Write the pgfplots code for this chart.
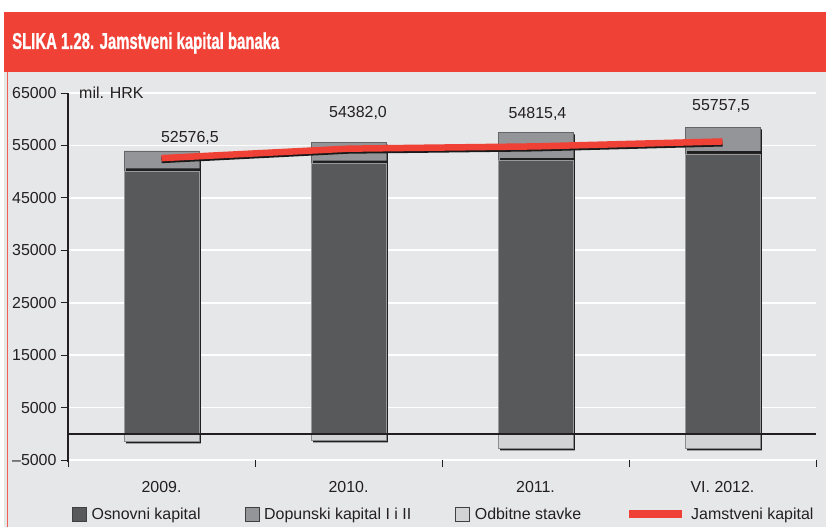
\documentclass[border=0pt]{standalone}
\usepackage{fontspec}
\setmainfont{Liberation Sans}
\newfontfamily\titlefont[FakeStretch=0.65, FakeBold=0.8]{Liberation Sans Bold}
\usepackage{pgfplots}
\usepackage{pgfplotstable}
\pgfplotsset{compat=1.18}
\definecolor{cred}{HTML}{EF4136}
\definecolor{cbg}{HTML}{E6E7E8}
\definecolor{cdark}{HTML}{58595B}
\definecolor{cgray}{HTML}{939598}
\definecolor{clight}{HTML}{D1D3D4}
\definecolor{ctext}{HTML}{231F20}
\pgfplotstableread{
x osn dop odb jk
0 50600 3350 -1370 52576.5
1 52100 3450 -1170 54382.0
2 52600 4900 -2700 54815.4
3 53900 4550 -2700 55757.5
}\data
\begin{document}
\begin{tikzpicture}
\fill[white] (0,0) rectangle (826bp,527bp);
\fill[cred] (4bp,455bp) rectangle (826bp,515bp);
\fill[cbg] (4bp,0) rectangle (826bp,455bp);
\draw[cred!85, line width=0.8bp] (7bp,0) -- (7bp,455bp);
\node[anchor=west, text=white, font=\titlefont\fontsize{23}{24}\selectfont, inner sep=0pt] at (12bp,484bp) {SLIKA 1.28. Jamstveni kapital banaka};
\begin{axis}[
  at={(68bp,67bp)}, anchor=south west, scale only axis,
  width=748bp, height=367bp,
  xmin=-0.5, xmax=3.5, ymin=-5000, ymax=65000,
  axis lines*=left,
  x axis line style={draw=none},
  y axis line style={line width=1.3bp, ctext, shorten <=-2bp},
  scaled y ticks=false,
  ytick={-5000,5000,15000,25000,35000,45000,55000,65000},
  yticklabels={–5000,5000,15000,25000,35000,45000,55000,65000},
  xtick={0,1,2,3},
  xticklabels={2009.,2010.,2011.,VI. 2012.},
  minor xtick={-0.5,0.5,1.5,2.5,3.5},
  major x tick style={draw=none},
  tick style={ctext, line width=0.9bp},
  tick align=outside, major tick length=7bp, minor tick length=7bp,
  ymajorgrids, major grid style={white, line width=1.6bp},
  ticklabel style={font=\fontsize{16}{17}\selectfont, text=ctext},
  xticklabel style={yshift=-11bp},
  yticklabel style={xshift=-1bp},
  clip=false,
  legend columns=4,
  legend style={at={(axis description cs:0.00535,-0.1471)}, anchor=west,
    draw=none, fill=none, inner sep=0pt, outer sep=0pt,
    font=\fontsize{16}{17}\selectfont, text=ctext,
    nodes={inner sep=0pt},
    /tikz/every odd column/.append style={column sep=5bp},
    /tikz/every even column/.append style={column sep=44bp}},
  legend cell align=left,
]
% shadows
\addplot[ybar, bar width=0.4, bar shift=2bp, fill=black!88, draw=none, forget plot]
  table[x=x, y expr=\thisrow{osn}+\thisrow{dop}-400] {\data};
\addplot[ybar, bar width=0.4, bar shift=2bp, fill=black!88, draw=none, forget plot]
  table[x=x, y expr=\thisrow{odb}-450] {\data};
% Dopunski (gray) segment
\addplot[ybar, bar width=0.4, fill=cgray, draw=black!60, line width=0.6bp, forget plot]
  table[x=x, y expr=\thisrow{osn}+\thisrow{dop}] {\data};
% shadow of gray segment over dark
\addplot[ybar, bar width=0.4, bar shift=2bp, fill=black!88, draw=none, forget plot]
  table[x=x, y=osn] {\data};
% Osnovni (dark)
\addplot[ybar, bar width=0.4, fill=cdark, draw=black!40, line width=0.6bp, forget plot]
  table[x=x, y expr=\thisrow{osn}-520] {\data};
% Odbitne (light)
\addplot[ybar, bar width=0.4, fill=clight, draw=black!45, line width=0.6bp, forget plot]
  table[x=x, y=odb] {\data};
% zero line
\addplot[ctext, line width=1.5bp, forget plot] coordinates {(-0.5,0) (3.5,0)};
% Jamstveni kapital
\addplot[black!90, line width=6.5bp, yshift=-1.8bp, forget plot] table[x=x, y=jk] {\data};
\addplot[cred, line width=6.5bp, forget plot] table[x=x, y=jk] {\data};
% labels
\node[font=\fontsize{16}{17}\selectfont, text=ctext] at (axis cs:0.152,56420) {52576,5};
\node[font=\fontsize{16}{17}\selectfont, text=ctext] at (axis cs:1.051,61190) {54382,0};
\node[font=\fontsize{16}{17}\selectfont, text=ctext] at (axis cs:2.011,61000) {54815,4};
\node[font=\fontsize{16}{17}\selectfont, text=ctext] at (axis cs:2.992,62520) {55757,5};
\node[anchor=west, font=\fontsize{16}{17}\selectfont, text=ctext, inner sep=0pt] at (axis cs:-0.441,65000) {mil. HRK};
% legend
\addlegendimage{legend image code/.code={\draw[fill=cdark, draw=black!75, line width=0.6bp] (0bp,-7bp) rectangle (14bp,7bp);}}
\addlegendentry{Osnovni kapital}
\addlegendimage{legend image code/.code={\draw[fill=cgray, draw=black!75, line width=0.6bp] (0bp,-7bp) rectangle (14bp,7bp);}}
\addlegendentry{Dopunski kapital I i II}
\addlegendimage{legend image code/.code={\draw[fill=clight, draw=black!75, line width=0.6bp] (0bp,-7bp) rectangle (14bp,7bp);}}
\addlegendentry{Odbitne stavke}
\addlegendimage{legend image code/.code={\draw[cred, line width=8bp] (0bp,0bp) -- (53bp,0bp);}}
\addlegendentry{Jamstveni kapital}
\end{axis}
\pgfresetboundingbox
\useasboundingbox (0,0) rectangle (826bp,527bp);
\end{tikzpicture}
\end{document}
